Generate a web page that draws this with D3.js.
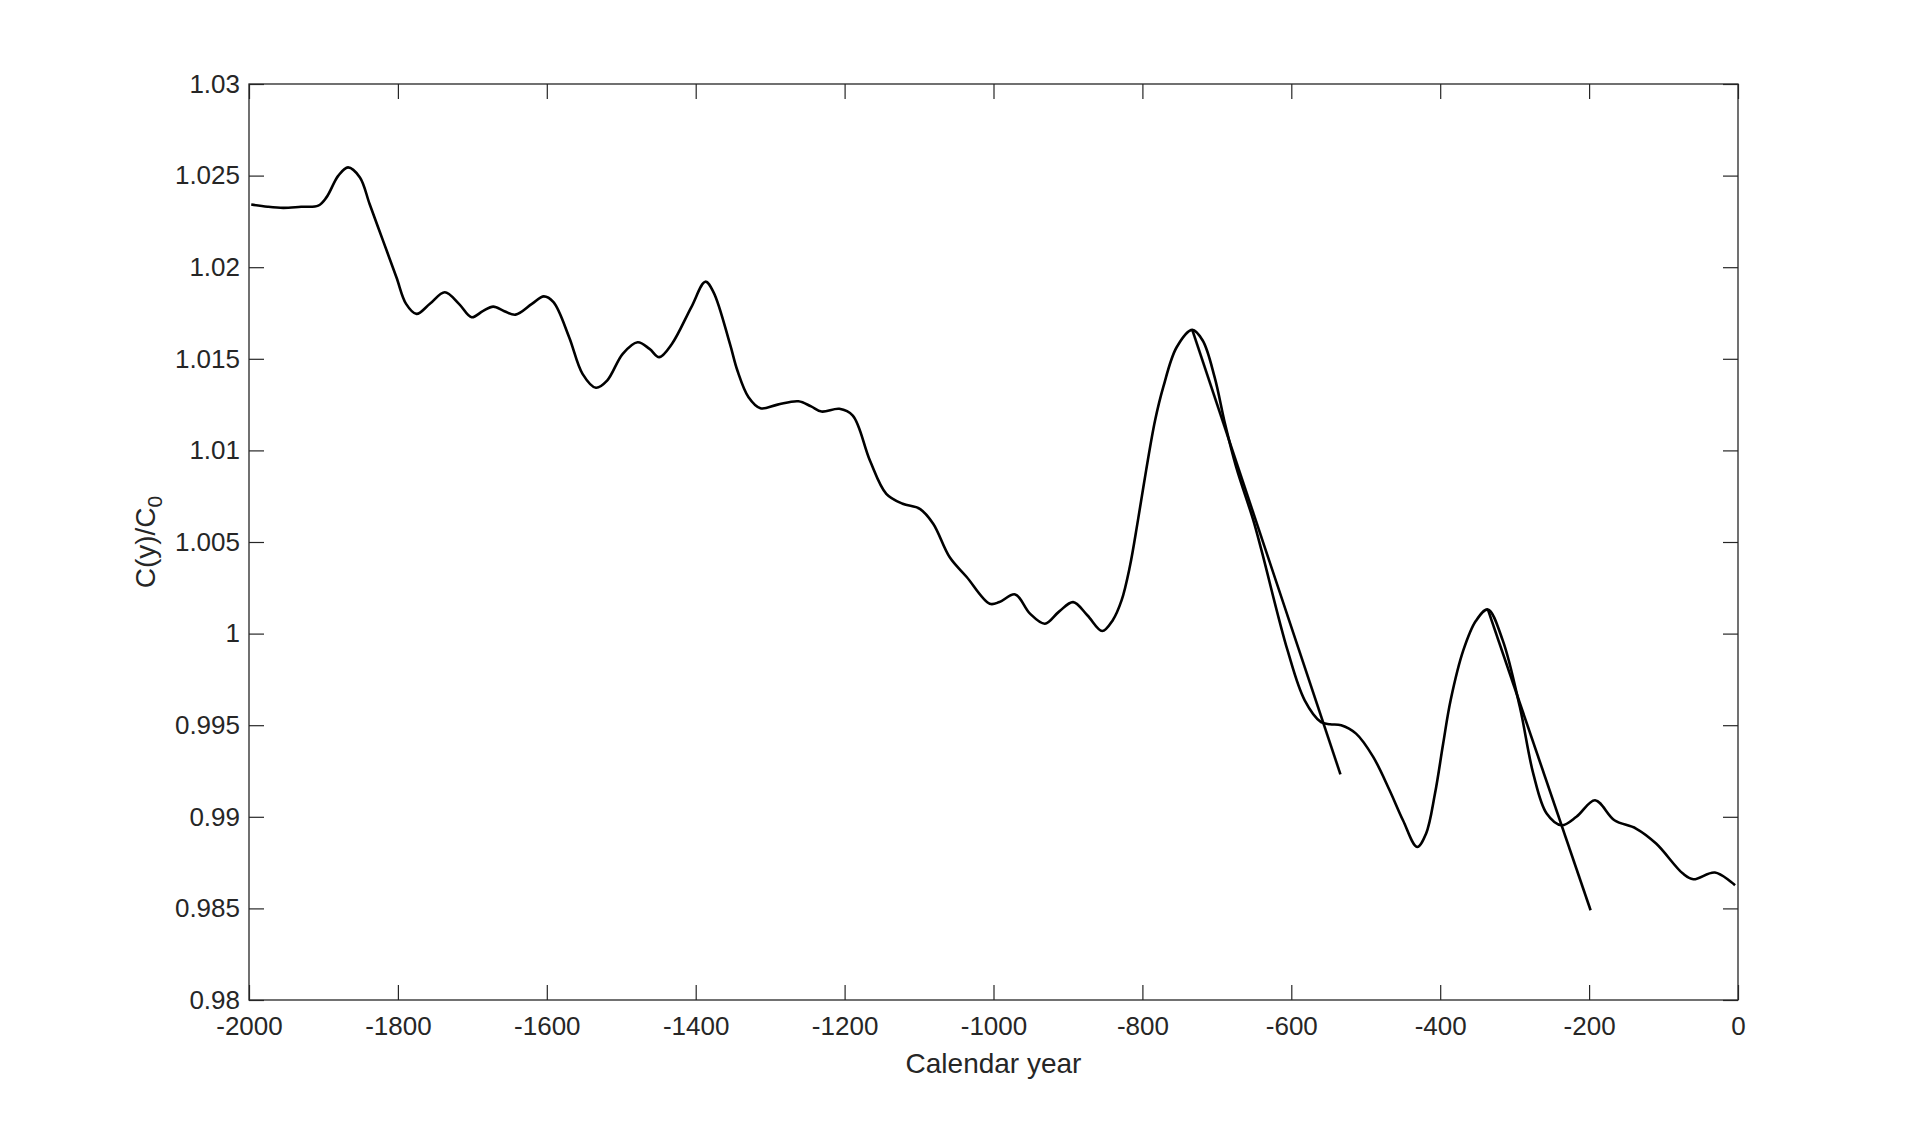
<!DOCTYPE html>
<html>
<head>
<meta charset="utf-8">
<script src="https://cdn.jsdelivr.net/npm/d3@7"></script>
<style>
  html, body { margin: 0; padding: 0; background: #fff; }
  svg { display: block; font-family: 'Liberation Sans', Arial, Helvetica, sans-serif; }
</style>
</head>
<body>
<div id="chart"></div>
<script>
// values
const years = [
  -1997, -1975, -1954, -1930, -1907, -1896, -1880, -1867, -1851, -1838,
  -1820, -1802, -1789, -1775, -1757, -1737, -1718, -1701, -1686,
  -1672, -1657, -1642, -1620, -1604, -1591, -1570, -1552, -1534, -1519,
  -1498, -1478, -1462, -1449, -1432, -1406, -1387, -1376, -1354, -1344,
  -1329, -1313, -1290, -1262, -1245, -1231, -1207, -1189, -1166, -1144,
  -1122, -1099, -1081, -1059, -1036, -1005, -992, -971, -951, -931,
  -912, -893, -874, -854, -840, -828, -817, -806, -795, -783,
  -772, -754, -733, -719, -703, -689, -674, -651, -640, -605,
  -582, -560, -548, -533, -513, -490, -468, -450, -431, -419,
  -407, -396, -386, -369, -352, -336, -316, -293, -275, -257,
  -237, -217, -192, -166, -137, -110, -74, -60, -31, -4,
];
const ratio = [
  1.02342, 1.0233, 1.02324, 1.0233, 1.02336, 1.02381, 1.0250, 1.02545, 1.0249, 1.02345,
  1.02145, 1.01945, 1.018, 1.01745, 1.018, 1.01863, 1.0180, 1.01727, 1.0176,
  1.01785, 1.0176, 1.01741, 1.0180, 1.01841, 1.01809, 1.01618, 1.01418, 1.01342, 1.01381,
  1.01527, 1.0159, 1.01554, 1.01509, 1.01581, 1.01781, 1.01921, 1.01863, 1.01581, 1.01436,
  1.0129, 1.0123, 1.0125, 1.01268, 1.0124, 1.01212, 1.01227, 1.0119, 1.00945, 1.00763,
  1.00709, 1.00681, 1.006, 1.00418, 1.00309, 1.00163, 1.00172, 1.00214, 1.00109, 1.00054,
  1.0012, 1.00172, 1.0010, 1.00014, 1.00072, 1.00181, 1.00363, 1.00618, 1.00891, 1.01163,
  1.01345, 1.01563, 1.01658, 1.016, 1.014, 1.01145, 1.00909, 1.00618, 1.00454, 0.99908,
  0.99636, 0.99517, 0.99505, 0.995, 0.99454, 0.99327, 0.99145, 0.98981, 0.98835, 0.98908,
  0.99127, 0.994, 0.99636, 0.99908, 1.0007, 1.00132, 0.99963, 0.99599, 0.99236, 0.99018,
  0.98954, 0.990, 0.9909, 0.98981, 0.98936, 0.98854, 0.9869, 0.98659, 0.98696, 0.98626,
];

// the two straight fitted segments
const fitYears = [[-733, -534], [-336, -198]];
const fitRatio = [[1.01658, 0.99232], [1.00132, 0.9849]];

const xTicks = [-2000, -1800, -1600, -1400, -1200, -1000, -800, -600, -400, -200, 0];
const yTicks = [0.98, 0.985, 0.99, 0.995, 1, 1.005, 1.01, 1.015, 1.02, 1.025, 1.03];

const size = { width: 1920, height: 1124 };
const margin = { top: 84, right: 182, bottom: 124, left: 249 };
const axisColor = '#262626';
const tickLen = 15;

const svg = d3
  .select('#chart')
  .append('svg')
  .attr('width', size.width)
  .attr('height', size.height);

const x = d3
  .scaleLinear()
  .domain([-2000, 0])
  .range([margin.left, size.width - margin.right]);

const y = d3
  .scaleLinear()
  .domain([0.98, 1.03])
  .range([size.height - margin.bottom, margin.top]);

const fmtY = (d) => String(+d.toFixed(3));
const fmtX = (d) => String(d);

// axes, matlab style: ticks inside, box on
const styleAxis = (g) => {
  g.select('.domain').remove();
  g.selectAll('line').attr('stroke', axisColor).attr('stroke-width', 1.2);
  g.selectAll('text').attr('fill', axisColor).style('font-size', '26px');
};

svg
  .append('g')
  .attr('transform', `translate(0, ${size.height - margin.bottom})`)
  .call(d3.axisBottom(x).tickValues(xTicks).tickFormat(fmtX).tickSize(-tickLen).tickPadding(17))
  .call(styleAxis)
  .attr('font-family', null);

svg
  .append('g')
  .attr('transform', `translate(0, ${margin.top})`)
  .call(d3.axisTop(x).tickValues(xTicks).tickFormat('').tickSize(-tickLen))
  .call(styleAxis);

svg
  .append('g')
  .attr('transform', `translate(${margin.left}, 0)`)
  .call(d3.axisLeft(y).tickValues(yTicks).tickFormat(fmtY).tickSize(-tickLen).tickPadding(9))
  .call(styleAxis)
  .attr('font-family', null);

svg
  .append('g')
  .attr('transform', `translate(${size.width - margin.right}, 0)`)
  .call(d3.axisRight(y).tickValues(yTicks).tickFormat('').tickSize(-tickLen))
  .call(styleAxis);

svg
  .append('rect')
  .attr('x', x(-2000))
  .attr('y', y(1.03))
  .attr('width', x(0) - x(-2000))
  .attr('height', y(0.98) - y(1.03))
  .attr('fill', 'none')
  .attr('stroke', axisColor)
  .attr('stroke-width', 1.3);

// curve
const points = years.map((yr, i) => [yr, ratio[i]]);
const line = d3
  .line()
  .x((d) => x(d[0]))
  .y((d) => y(d[1]))
  .curve(d3.curveCatmullRom.alpha(0.5));

svg
  .append('path')
  .datum(points)
  .attr('d', line)
  .attr('fill', 'none')
  .attr('stroke', '#000')
  .attr('stroke-width', 2.6)
  .attr('stroke-linejoin', 'round');

fitYears.forEach((yrs, i) => {
  svg
    .append('line')
    .attr('x1', x(yrs[0]))
    .attr('y1', y(fitRatio[i][0]))
    .attr('x2', x(yrs[1]))
    .attr('y2', y(fitRatio[i][1]))
    .attr('stroke', '#000')
    .attr('stroke-width', 2.6);
});

// labels
svg
  .append('text')
  .attr('x', (x(-2000) + x(0)) / 2)
  .attr('y', 1073)
  .attr('text-anchor', 'middle')
  .attr('fill', axisColor)
  .style('font-size', '28px')
  .text('Calendar year');

const ylab = svg
  .append('text')
  .attr('transform', `translate(155, ${(y(0.98) + y(1.03)) / 2}) rotate(-90)`)
  .attr('text-anchor', 'middle')
  .attr('fill', axisColor)
  .style('font-size', '28px');
ylab.append('tspan').text('C(y)/C');
ylab.append('tspan').attr('dy', 7).style('font-size', '21px').text('0');
</script>
</body>
</html>
